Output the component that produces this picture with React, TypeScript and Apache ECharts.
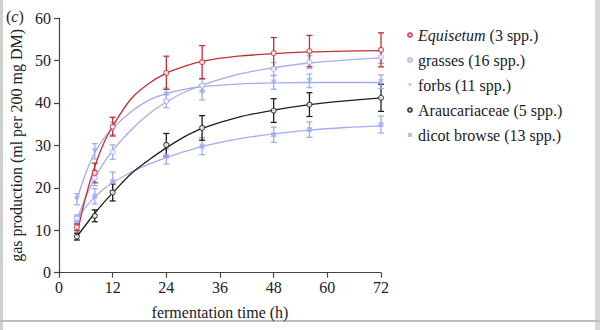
import React, { useEffect, useRef } from "react";
import * as echarts from "echarts";

const times = [4, 8, 12, 24, 32, 48, 56, 72];
const curveTimes = [4, 6, 8, 10, 12, 16, 20, 24, 28, 32, 40, 48, 56, 64, 72];
const xTicks = [0, 12, 24, 36, 48, 60, 72];
const yTicks = [0, 10, 20, 30, 40, 50, 60];

const legendNames = [
  "Equisetum (3 spp.)",
  "grasses (16 spp.)",
  "forbs (11 spp.)",
  "Araucariaceae (5 spp.)",
  "dicot browse (13 spp.)",
];

const equisetumMean = [10.7, 23.5, 34.4, 47.1, 49.6, 51.7, 52.2, 52.5];
const equisetumErr = [0.8, 2.3, 2.2, 3.9, 3.9, 3.7, 3.7, 4.0];
const equisetumCurve = [9, 18, 25, 30.5, 34.5, 40.8, 44.5, 47, 48.6, 49.8, 51, 51.6, 52, 52.2, 52.3];

const grassesMean = [12.8, 22.3, 28.4, 40.4, 44.1, 48.0, 49.6, 50.8];
const grassesErr = [0.8, 1.8, 1.7, 1.5, 1.5, 1.5, 1.5, 1.5];
const grassesCurve = [12.5, 17.8, 22.3, 25.8, 28.8, 33.5, 37.3, 40.2, 42.5, 44.2, 46.7, 48.3, 49.4, 50.1, 50.6];

const forbsMean = [17.3, 28.6, 34.0, 42.0, 42.5, 44.8, 45.2, 45.0];
const forbsErr = [1.3, 1.8, 1.5, 1.5, 1.8, 1.6, 1.6, 1.6];
const forbsCurve = [17.3, 23.5, 28.3, 31.6, 34, 37.8, 40.6, 42.2, 43.2, 43.8, 44.4, 44.7, 44.8, 44.8, 44.8];

const araucMean = [8.5, 13.4, 18.9, 30.1, 34.1, 38.2, 39.6, 41.2];
const araucErr = [0.8, 1.4, 2.0, 2.7, 2.9, 2.8, 2.8, 3.2];
const araucCurve = [8.5, 11.3, 14, 16.5, 18.8, 23.2, 26.5, 29.4, 32, 34, 36.6, 38.3, 39.6, 40.5, 41.2];

const dicotMean = [12.3, 18.0, 21.5, 27.4, 29.8, 32.5, 33.7, 34.9];
const dicotErr = [1.0, 1.8, 2.2, 1.8, 2.0, 1.8, 1.8, 2.0];
const dicotCurve = [12.5, 15.5, 17.8, 19.7, 21.2, 23.6, 25.5, 27.1, 28.5, 29.7, 31.5, 32.7, 33.6, 34.2, 34.6];

const RED = "#c22f37";
const BLUE = "#a3adef";
const BLACK = "#1e1e1e";
const FONT = "Liberation Serif";
const FS = 16;
const DOWN_TRIANGLE = "path://M0,0 L10,0 L5,9 Z";

type Group = {
  name: string;
  mean: number[];
  err: number[];
  curve: number[];
  color: string;
  symbol: string;
  hollow: boolean;
  size: number;
};

const groups: Group[] = [
  { name: legendNames[4], mean: dicotMean, err: dicotErr, curve: dicotCurve, color: BLUE, symbol: "rect", hollow: false, size: 5 },
  { name: legendNames[3], mean: araucMean, err: araucErr, curve: araucCurve, color: BLACK, symbol: "circle", hollow: true, size: 5 },
  { name: legendNames[2], mean: forbsMean, err: forbsErr, curve: forbsCurve, color: BLUE, symbol: DOWN_TRIANGLE, hollow: false, size: 6 },
  { name: legendNames[1], mean: grassesMean, err: grassesErr, curve: grassesCurve, color: BLUE, symbol: "circle", hollow: true, size: 5 },
  { name: legendNames[0], mean: equisetumMean, err: equisetumErr, curve: equisetumCurve, color: RED, symbol: "circle", hollow: true, size: 5 },
];

function buildOption() {
  const series: any[] = [];
  groups.forEach((g) => {
    series.push({
      type: "custom",
      name: g.name + "-err",
      silent: true,
      z: 2,
      data: times.map((t, i) => [t, g.mean[i], g.err[i]]),
      encode: { x: 0, y: 1 },
      renderItem: (params: any, api: any) => {
        const x = api.value(0);
        const y = api.value(1);
        const e = api.value(2);
        const top = api.coord([x, y + e]);
        const bot = api.coord([x, y - e]);
        const hw = 3;
        const st = { stroke: g.color, lineWidth: 1.3 };
        return {
          type: "group",
          children: [
            { type: "line", shape: { x1: top[0], y1: top[1], x2: bot[0], y2: bot[1] }, style: st },
            { type: "line", shape: { x1: top[0] - hw, y1: top[1], x2: top[0] + hw, y2: top[1] }, style: st },
            { type: "line", shape: { x1: bot[0] - hw, y1: bot[1], x2: bot[0] + hw, y2: bot[1] }, style: st },
          ],
        };
      },
    });
    series.push({
      type: "line",
      name: g.name + "-fit",
      silent: true,
      z: 3,
      smooth: 0.3,
      showSymbol: false,
      symbol: "none",
      lineStyle: { color: g.color, width: 1.3 },
      data: curveTimes.map((t, i) => [t, g.curve[i]]),
    });
    series.push({
      type: "scatter",
      name: g.name,
      z: 4,
      symbol: g.symbol,
      symbolSize: g.size,
      itemStyle: g.hollow
        ? { color: "#ffffff", borderColor: g.color, borderWidth: 1.1 }
        : { color: g.color, borderWidth: 0 },
      data: times.map((t, i) => [t, g.mean[i]]),
    });
  });

  return {
    animation: false,
    backgroundColor: "#ffffff",
    textStyle: { fontFamily: FONT },
    grid: { left: 57, right: 219, top: 18, bottom: 57.3, containLabel: false },
    xAxis: {
      type: "value",
      min: xTicks[0],
      max: xTicks[xTicks.length - 1],
      interval: 12,
      name: "fermentation time (h)",
      nameLocation: "middle",
      nameGap: 32,
      nameTextStyle: { fontFamily: FONT, fontSize: FS, color: "#222" },
      axisLine: { lineStyle: { color: "#444", width: 1.2 } },
      axisTick: { length: 5, lineStyle: { color: "#444", width: 1.2 } },
      axisLabel: { fontFamily: FONT, fontSize: FS, color: "#222", margin: 7 },
      splitLine: { show: false },
    },
    yAxis: {
      type: "value",
      min: yTicks[0],
      max: yTicks[yTicks.length - 1],
      interval: 10,
      name: "gas production (ml per 200 mg DM)",
      nameLocation: "middle",
      nameGap: 35,
      nameTextStyle: { fontFamily: FONT, fontSize: FS, color: "#222" },
      axisLine: { show: true, lineStyle: { color: "#444", width: 1.2 } },
      axisTick: { show: true, length: 5, lineStyle: { color: "#444", width: 1.2 } },
      axisLabel: { fontFamily: FONT, fontSize: FS, color: "#222", margin: 8 },
      splitLine: { show: false },
    },
    legend: {
      orient: "vertical",
      left: 402,
      top: 22,
      itemWidth: 4,
      itemHeight: 4,
      itemGap: 9,
      data: legendNames.map((n) => (n.startsWith("forbs") ? { name: n, icon: DOWN_TRIANGLE } : { name: n })),
      selectedMode: false,
      formatter: (name: string) =>
        name.startsWith("Equisetum") ? "{i|Equisetum} (3 spp.)" : name,
      textStyle: {
        fontFamily: FONT,
        fontSize: FS,
        color: "#222",
        lineHeight: 16,
        padding: [0, 0, 0, 1],
        rich: { i: { fontStyle: "italic", fontFamily: FONT, fontSize: FS, color: "#222" } },
      },
    },
    graphic: [
      { type: "rect", shape: { x: 0, y: 0, width: 3, height: 330 }, style: { fill: "#cfcfcf" }, silent: true },
      { type: "rect", shape: { x: 595, y: 0, width: 5, height: 330 }, style: { fill: "#d8d8d8" }, silent: true },
      { type: "rect", shape: { x: 0, y: 320, width: 600, height: 2 }, style: { fill: "#bdbdbd" }, silent: true },
      {
        type: "text",
        left: 6,
        top: 8,
        style: {
          text: "({i|c})",
          fontFamily: FONT,
          fontSize: FS,
          fill: "#222",
          rich: { i: { fontStyle: "italic", fontFamily: FONT, fontSize: FS, fill: "#222" } },
        },
      },
    ],
    series,
  };
}

export default function App() {
  const ref = useRef<HTMLDivElement>(null);
  useEffect(() => {
    if (!ref.current) return;
    const chart = echarts.init(ref.current, undefined, { renderer: "svg" });
    chart.setOption(buildOption() as any);
    return () => chart.dispose();
  }, []);
  return (
    <div
      ref={ref}
      style={{ position: "fixed", left: 0, top: 0, width: 600, height: 330, background: "#fff" }}
    />
  );
}
